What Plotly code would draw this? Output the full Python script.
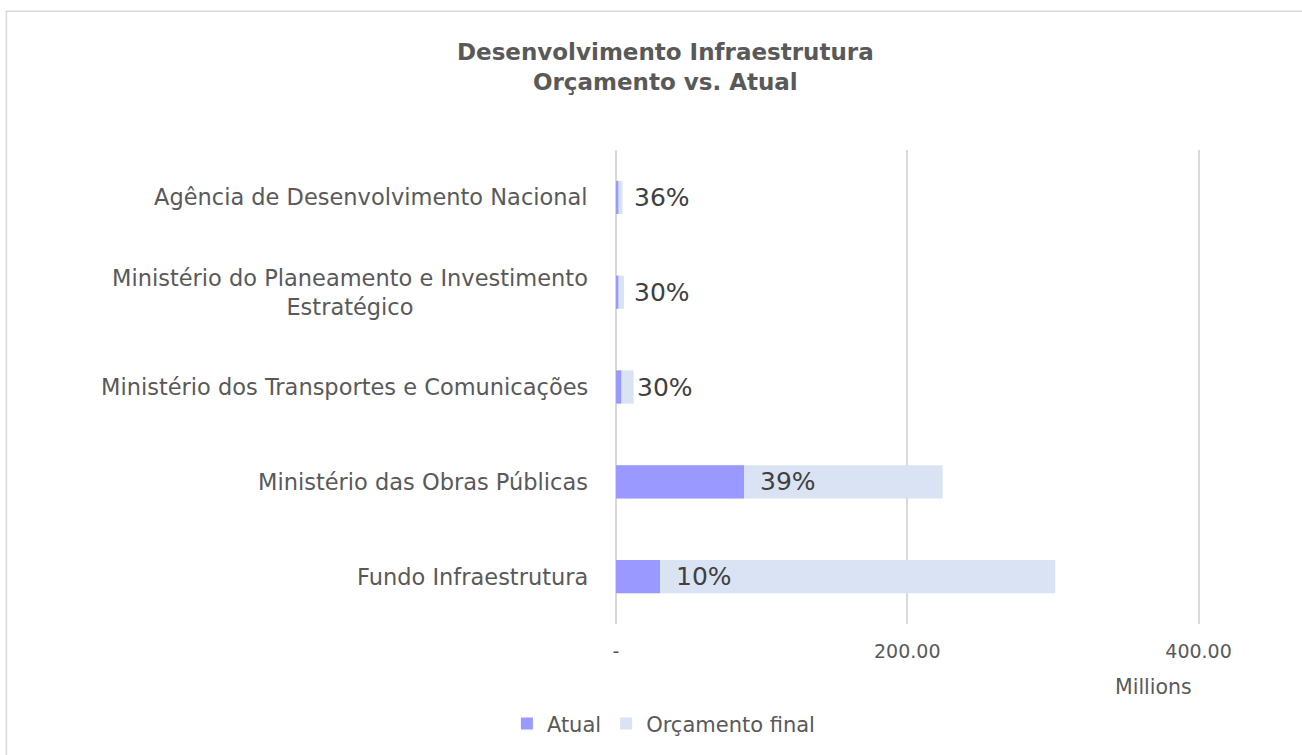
import plotly.graph_objects as go

# Data (values in millions), listed bottom to top
categories = [
    "Fundo Infraestrutura",
    "Ministério das Obras Públicas",
    "Ministério dos Transportes e Comunicações",
    "Ministério do Planeamento e Investimento<br>Estratégico",
    "Agência de Desenvolvimento Nacional",
]
orcamento_final = [301.6, 224.3, 12.1, 5.5, 4.5]
atual = [30.2, 87.9, 3.6, 1.65, 1.6]
x_tickvals = [0, 200, 400]
x_ticktext = ["-", "200.00", "400.00"]

FONT = "DejaVu Sans"
TXT = "#595959"

fig = go.Figure()
fig.add_trace(go.Bar(
    y=categories, x=orcamento_final, orientation="h", name="Orçamento final",
    marker=dict(color="#DAE3F3", line=dict(width=0)), width=0.35,
))
fig.add_trace(go.Bar(
    y=categories, x=atual, orientation="h", name="Atual",
    marker=dict(color="#9999FF", line=dict(width=0)), width=0.35,
))

annotations = []
for cat, a, o in zip(categories, atual, orcamento_final):
    annotations.append(dict(
        x=a, y=cat, xref="x", yref="y", text=f"{round(a / o * 100)}%",
        showarrow=False, xanchor="left", yanchor="middle", xshift=14,
        font=dict(family=FONT, size=25, color="#404040"),
    ))
    annotations.append(dict(
        x=-0.0447, y=cat, xref="paper", yref="y", text=cat,
        showarrow=False, xanchor="right", yanchor="middle", align="center",
        font=dict(family=FONT, size=22.5, color=TXT),
    ))
annotations.append(dict(
    x=0.921, y=-0.133, xref="paper", yref="paper", text="Millions",
    showarrow=False, xanchor="center", yanchor="middle",
    font=dict(family=FONT, size=20.5, color=TXT),
))

fig.update_layout(
    width=1302, height=755,
    margin=dict(l=616, r=102, t=150, b=130),
    paper_bgcolor="white", plot_bgcolor="white",
    barmode="overlay",
    title=dict(
        text="<b>Desenvolvimento Infraestrutura<br>Orçamento vs. Atual</b>",
        x=0.511, xref="container", y=0.921, yref="container",
        xanchor="center", yanchor="middle",
        font=dict(family=FONT, size=23, color=TXT),
    ),
    xaxis=dict(
        range=[0, 401], tickvals=x_tickvals, ticktext=x_ticktext,
        showgrid=True, gridcolor="#D9D9D9", gridwidth=1.5,
        zeroline=True, zerolinecolor="#D9D9D9", zerolinewidth=1.5,
        showline=False, ticks="", ticklabelstandoff=14,
        tickfont=dict(family=FONT, size=19, color=TXT),
    ),
    yaxis=dict(
        categoryorder="array", categoryarray=categories,
        showticklabels=False, showgrid=False, zeroline=False, ticks="",
        range=[-0.5, 4.5],
    ),
    legend=dict(
        orientation="h", x=0.082, y=-0.208, xanchor="center", yanchor="middle",
        traceorder="reversed", font=dict(family=FONT, size=21, color=TXT),
        itemwidth=30,
    ),
    annotations=annotations,
    shapes=[dict(
        type="rect", xref="paper", yref="paper",
        x0=-1.0438, x1=2, y0=-1, y1=1.2926,
        line=dict(color="#D9D9D9", width=1.5), layer="below",
    )],
    showlegend=True,
)

fig.write_html(
    "out.html",
    config={"displayModeBar": False},
    post_script="document.body.style.margin='0';",
)
